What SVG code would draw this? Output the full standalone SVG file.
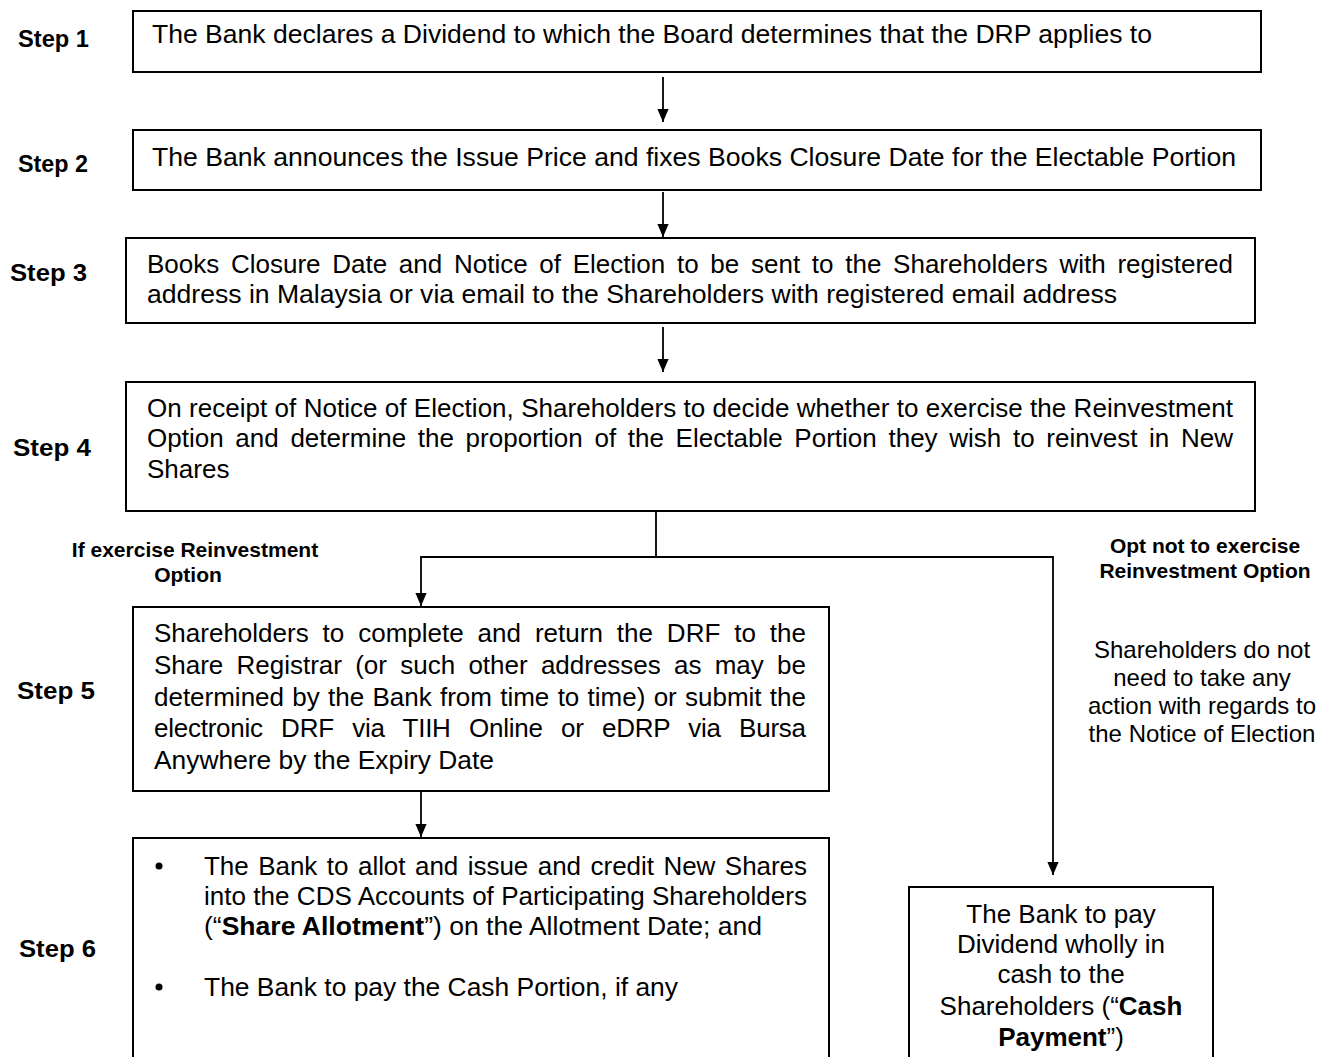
<svg xmlns="http://www.w3.org/2000/svg" width="1333" height="1057" viewBox="0 0 1333 1057">
<style>
.box{fill:#fff;stroke:#000;stroke-width:2}
.t{font-family:"Liberation Sans",Arial,sans-serif;font-size:26px;fill:#000}
.step{font-family:"Liberation Sans",Arial,sans-serif;font-size:24px;font-weight:bold;fill:#000}
.lbl{font-family:"Liberation Sans",Arial,sans-serif;font-size:21px;font-weight:bold;fill:#000}
.r{font-family:"Liberation Sans",Arial,sans-serif;font-size:24px;fill:#000}
.ln{fill:none;stroke:#000;stroke-width:1.8}
</style>
<defs>
<marker id="a" markerWidth="13" markerHeight="15" refX="15" refY="6.5" orient="auto" markerUnits="userSpaceOnUse" viewBox="0 0 15 13">
<path d="M0,0 L15,6.5 L0,13 Z" fill="#000"/>
</marker>
</defs>

<g id="step-labels">
<text class="step" x="18" y="47" textLength="71" lengthAdjust="spacingAndGlyphs">Step 1</text>
<text class="step" x="18" y="172" textLength="70" lengthAdjust="spacingAndGlyphs">Step 2</text>
<text class="step" x="10" y="281" textLength="77" lengthAdjust="spacingAndGlyphs">Step 3</text>
<text class="step" x="13" y="456" textLength="78" lengthAdjust="spacingAndGlyphs">Step 4</text>
<text class="step" x="17" y="699" textLength="78" lengthAdjust="spacingAndGlyphs">Step 5</text>
<text class="step" x="19" y="957" textLength="77" lengthAdjust="spacingAndGlyphs">Step 6</text>
</g>

<g id="step1">
<rect class="box" x="133" y="11" width="1128" height="61"/>
<text class="t" x="152" y="43" textLength="1000" lengthAdjust="spacingAndGlyphs">The Bank declares a Dividend to which the Board determines that the DRP applies to</text>
</g>

<g id="step2">
<rect class="box" x="133" y="130" width="1128" height="60"/>
<text class="t" x="152" y="166" textLength="1084" lengthAdjust="spacingAndGlyphs">The Bank announces the Issue Price and fixes Books Closure Date for the Electable Portion</text>
</g>

<g id="step3">
<rect class="box" x="126" y="238" width="1129" height="85"/>
<text class="t" x="147" y="273" word-spacing="4.5" textLength="1086" lengthAdjust="spacing">Books Closure Date and Notice of Election to be sent to the Shareholders with registered</text>
<text class="t" x="147" y="303" textLength="970" lengthAdjust="spacingAndGlyphs">address in Malaysia or via email to the Shareholders with registered email address</text>
</g>

<g id="step4">
<rect class="box" x="126" y="382" width="1129" height="129"/>
<text class="t" x="147" y="417" textLength="1086" lengthAdjust="spacing">On receipt of Notice of Election, Shareholders to decide whether to exercise the Reinvestment</text>
<text class="t" x="147" y="447" word-spacing="4.4" textLength="1086" lengthAdjust="spacing">Option and determine the proportion of the Electable Portion they wish to reinvest in New</text>
<text class="t" x="147" y="478">Shares</text>
</g>

<g id="label-exercise">
<text class="lbl" x="195" y="557" text-anchor="middle">If exercise Reinvestment</text>
<text class="lbl" x="188" y="582" text-anchor="middle">Option</text>
</g>

<g id="label-opt-not">
<text class="lbl" x="1205" y="553" text-anchor="middle">Opt not to exercise</text>
<text class="lbl" x="1205" y="578" text-anchor="middle">Reinvestment Option</text>
</g>

<g id="note-no-action">
<text class="r" x="1202" y="658" text-anchor="middle">Shareholders do not</text>
<text class="r" x="1202" y="686" text-anchor="middle">need to take any</text>
<text class="r" x="1202" y="714" text-anchor="middle">action with regards to</text>
<text class="r" x="1202" y="742" text-anchor="middle">the Notice of Election</text>
</g>

<g id="step5">
<rect class="box" x="133" y="607" width="696" height="184"/>
<text class="t" x="154" y="642" word-spacing="6.7" textLength="652" lengthAdjust="spacing">Shareholders to complete and return the DRF to the</text>
<text class="t" x="154" y="674" word-spacing="6.1" textLength="652" lengthAdjust="spacing">Share Registrar (or such other addresses as may be</text>
<text class="t" x="154" y="706" word-spacing="1.1" textLength="652" lengthAdjust="spacing">determined by the Bank from time to time) or submit the</text>
<text class="t" x="154" y="737" word-spacing="11.4" textLength="652" lengthAdjust="spacing">electronic DRF via TIIH Online or eDRP via Bursa</text>
<text class="t" x="154" y="769" textLength="340" lengthAdjust="spacingAndGlyphs">Anywhere by the Expiry Date</text>
</g>

<g id="step6">
<rect class="box" x="133" y="838" width="696" height="230"/>
<circle cx="159" cy="866" r="3.5"/>
<text class="t" x="204" y="875" word-spacing="2.4" textLength="603" lengthAdjust="spacing">The Bank to allot and issue and credit New Shares</text>
<text class="t" x="204" y="905" textLength="603" lengthAdjust="spacing">into the CDS Accounts of Participating Shareholders</text>
<text class="t" x="204" y="935" textLength="558" lengthAdjust="spacingAndGlyphs">(“<tspan font-weight="bold">Share Allotment</tspan>”) on the Allotment Date; and</text>
<circle cx="159" cy="987" r="3.5"/>
<text class="t" x="204" y="996" textLength="474" lengthAdjust="spacingAndGlyphs">The Bank to pay the Cash Portion, if any</text>
</g>

<g id="cash-payment">
<rect class="box" x="909" y="887" width="304" height="190"/>
<text class="t" x="1061" y="923" text-anchor="middle">The Bank to pay</text>
<text class="t" x="1061" y="953" text-anchor="middle">Dividend wholly in</text>
<text class="t" x="1061" y="983" text-anchor="middle">cash to the</text>
<text class="t" x="1061" y="1015" text-anchor="middle">Shareholders (“<tspan font-weight="bold">Cash</tspan></text>
<text class="t" x="1061" y="1046" text-anchor="middle"><tspan font-weight="bold">Payment</tspan>”)</text>
</g>

<g id="connectors">
<line class="ln" x1="663" y1="77" x2="663" y2="122" marker-end="url(#a)"/>
<line class="ln" x1="663" y1="192" x2="663" y2="237" marker-end="url(#a)"/>
<line class="ln" x1="663" y1="327" x2="663" y2="372" marker-end="url(#a)"/>
<polyline class="ln" points="656,511 656,557 421,557 421,606" marker-end="url(#a)"/>
<polyline class="ln" points="656,557 1053,557 1053,875" marker-end="url(#a)"/>
<line class="ln" x1="421" y1="792" x2="421" y2="837" marker-end="url(#a)"/>
</g>
</svg>
